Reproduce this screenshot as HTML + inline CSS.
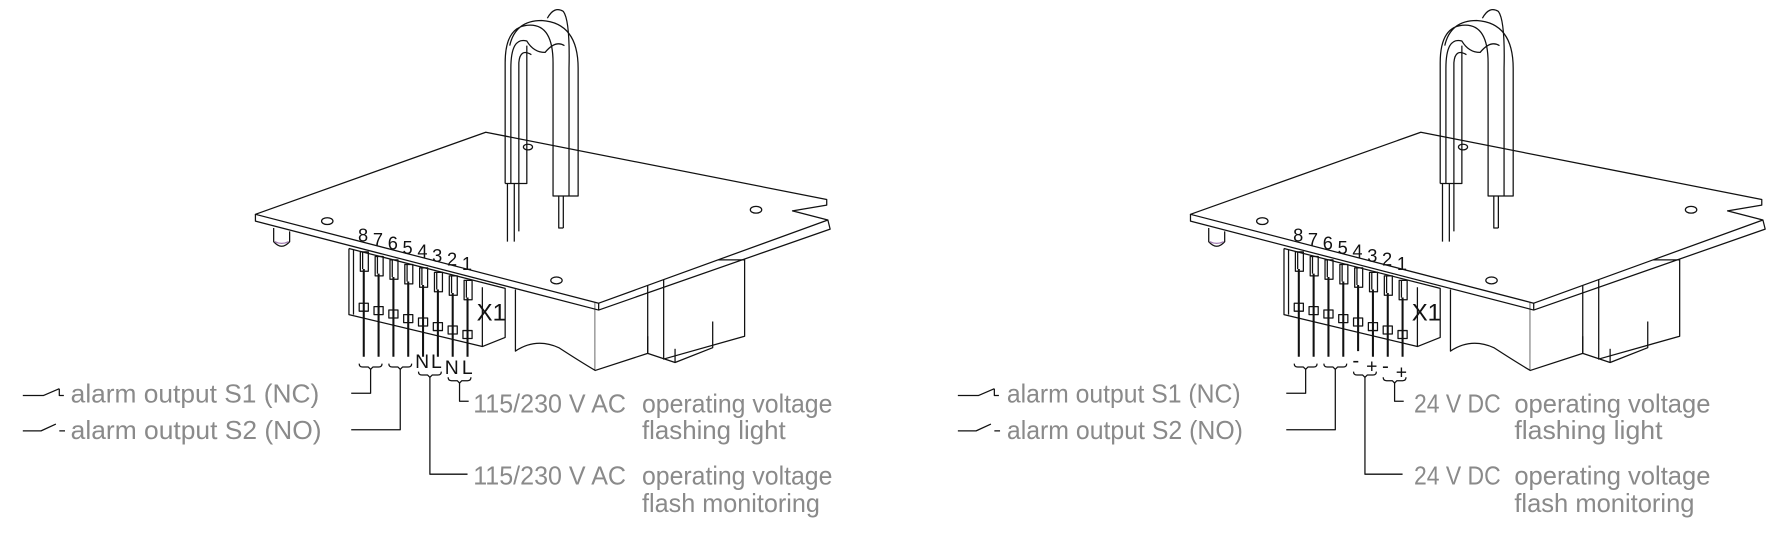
<!DOCTYPE html>
<html><head><meta charset="utf-8"><style>
html,body{margin:0;padding:0;background:#fff;}
svg{display:block}
.t{font-family:"Liberation Sans Narrow","Liberation Sans",sans-serif;font-stretch:condensed;fill:#8a8a8a;font-size:23px}
.n{font-family:"Liberation Sans",sans-serif;fill:#111;font-size:16px}
</style></head><body>
<svg width="1788" height="546" viewBox="0 0 1568 479" preserveAspectRatio="none" xmlns="http://www.w3.org/2000/svg">
<g fill="none" stroke="#111" stroke-width="1.1" stroke-linejoin="round">
<g id="b1">
<path d="M452,254 L452,308 Q470,296 490,305 Q510,318 522,325 L522,262" fill="#fff"/>
<path d="M522,262 L568,250 L568,310 L522,325" fill="#fff"/>
<path d="M582,228 L653,228 L653,295 L582,315 Z" fill="#fff"/>
<path d="M568,295 L568,310 L592,318 L625,305 L625,282"/>
<path d="M592,318 L592,306"/>
<path d="M224,188 L426,116 L725,175 L725,180 L695,185 L726,193 L525,266 Z" fill="#fff"/>
<path d="M224,188 L224,194 L525,272 L728,201 L726,193 M525,266 L525,272"/>
<ellipse cx="287" cy="194" rx="5" ry="3"/><ellipse cx="488" cy="246" rx="5" ry="3"/>
<ellipse cx="663" cy="184" rx="5" ry="3"/><ellipse cx="463" cy="129" rx="4" ry="2.5"/>
<path d="M240,200 L240,212 Q247,220 254,212 L254,203"/><path d="M241,212 Q247,215 253,212" stroke="#a07ab0"/>
<path d="M443,161 L443,55 Q443,22 465,22 Q485,22 485,55 L485,172 L507,172 L507,60 Q507,20 475,18 Q452,18 447,40"/>
<path d="M448,161 L448,60 Q448,32 462,36 Q468,46 478,46 Q487,35 495,40"/>
<path d="M455,161 L455,55 Q456,42 466,48"/>
<path d="M443,161 L462,161 L462,40"/>
<path d="M480,16 Q486,5 494,10 Q500,18 499,60 L499,172"/>
<path d="M451,161 L451,212 M455,161 L455,203 M445,161 L445,212 M494,172 L494,200 M490,172 L490,200 L494,200"/>
<path d="M306,218 L306,276 L423,304 L443,296 L443,253 L306,218" fill="#fff"/>
<path d="M423,252 L423,304 M310,219 L310,276"/>
<path d="M316,221 h7 v17 h-7 z M318,221 v15 M329,225 h7 v17 h-7 z M331,225 v15 M342,228 h7 v17 h-7 z M344,228 v15 M355,232 h7 v17 h-7 z M357,232 v15 M368,235 h7 v17 h-7 z M370,235 v15 M381,239 h7 v17 h-7 z M383,239 v15 M394,242 h7 v17 h-7 z M396,242 v15 M407,246 h7 v17 h-7 z M409,246 v15"/>
<path d="M315,266 h8 v7 h-8z M328,269 h8 v7 h-8z M341,272 h8 v7 h-8z M354,276 h8 v7 h-8z M367,279 h8 v7 h-8z M380,283 h8 v7 h-8z M393,286 h8 v7 h-8z M406,290 h8 v7 h-8z"/>
<path d="M319,236 V313 M332,240 V313 M345,243 V313 M358,247 V313 M371,250 V313 M384,254 V313 M397,257 V313 M410,261 V313" stroke-width="1.8"/>
<path d="M315,319 q0,3 3,3 h5 l2,2 l2,-2 h5 q3,0 3,-3 M341,319 q0,3 3,3 h5 l2,2 l2,-2 h5 q3,0 3,-3 M367,326 q0,3 3,3 h5 l2,2 l2,-2 h5 q3,0 3,-3 M393,331 q0,3 3,3 h5 l2,2 l2,-2 h5 q3,0 3,-3"/>
<path d="M325,324 V345 H308 M351,324 V377 H308 M377,331 V416 H410 M403,336 V352 H411"/>
</g>
<path d="M20,347 H38 L52,341 M52,341 V347 L56,347"/>
<path d="M20,378 H36 L49,372 M52,378 H57"/>

<g transform="translate(820,0)">
<path d="M452,254 L452,308 Q470,296 490,305 Q510,318 522,325 L522,262" fill="#fff"/>
<path d="M522,262 L568,250 L568,310 L522,325" fill="#fff"/>
<path d="M582,228 L653,228 L653,295 L582,315 Z" fill="#fff"/>
<path d="M568,295 L568,310 L592,318 L625,305 L625,282"/>
<path d="M592,318 L592,306"/>
<path d="M224,188 L426,116 L725,175 L725,180 L695,185 L726,193 L525,266 Z" fill="#fff"/>
<path d="M224,188 L224,194 L525,272 L728,201 L726,193 M525,266 L525,272"/>
<ellipse cx="287" cy="194" rx="5" ry="3"/><ellipse cx="488" cy="246" rx="5" ry="3"/>
<ellipse cx="663" cy="184" rx="5" ry="3"/><ellipse cx="463" cy="129" rx="4" ry="2.5"/>
<path d="M240,200 L240,212 Q247,220 254,212 L254,203"/><path d="M241,212 Q247,215 253,212" stroke="#a07ab0"/>
<path d="M443,161 L443,55 Q443,22 465,22 Q485,22 485,55 L485,172 L507,172 L507,60 Q507,20 475,18 Q452,18 447,40"/>
<path d="M448,161 L448,60 Q448,32 462,36 Q468,46 478,46 Q487,35 495,40"/>
<path d="M455,161 L455,55 Q456,42 466,48"/>
<path d="M443,161 L462,161 L462,40"/>
<path d="M480,16 Q486,5 494,10 Q500,18 499,60 L499,172"/>
<path d="M451,161 L451,212 M455,161 L455,203 M445,161 L445,212 M494,172 L494,200 M490,172 L490,200 L494,200"/>
<path d="M306,218 L306,276 L423,304 L443,296 L443,253 L306,218" fill="#fff"/>
<path d="M423,252 L423,304 M310,219 L310,276"/>
<path d="M316,221 h7 v17 h-7 z M318,221 v15 M329,225 h7 v17 h-7 z M331,225 v15 M342,228 h7 v17 h-7 z M344,228 v15 M355,232 h7 v17 h-7 z M357,232 v15 M368,235 h7 v17 h-7 z M370,235 v15 M381,239 h7 v17 h-7 z M383,239 v15 M394,242 h7 v17 h-7 z M396,242 v15 M407,246 h7 v17 h-7 z M409,246 v15"/>
<path d="M315,266 h8 v7 h-8z M328,269 h8 v7 h-8z M341,272 h8 v7 h-8z M354,276 h8 v7 h-8z M367,279 h8 v7 h-8z M380,283 h8 v7 h-8z M393,286 h8 v7 h-8z M406,290 h8 v7 h-8z"/>
<path d="M319,236 V313 M332,240 V313 M345,243 V313 M358,247 V313 M371,250 V308 M384,254 V313 M397,257 V313 M410,261 V313" stroke-width="1.8"/>
<path d="M315,319 q0,3 3,3 h5 l2,2 l2,-2 h5 q3,0 3,-3 M341,319 q0,3 3,3 h5 l2,2 l2,-2 h5 q3,0 3,-3 M367,326 q0,3 3,3 h5 l2,2 l2,-2 h5 q3,0 3,-3 M393,331 q0,3 3,3 h5 l2,2 l2,-2 h5 q3,0 3,-3"/>
<path d="M325,324 V345 H308 M351,324 V377 H308 M377,331 V416 H410 M403,336 V352 H411"/>
</g>
<path d="M840,347 H858 L872,341 M872,341 V347 L876,347"/>
<path d="M840,378 H856 L869,372 M872,378 H877"/>
</g>

<g class="n">
<text x="314" y="212">8</text><text x="327" y="216">7</text><text x="340" y="219">6</text><text x="353" y="223">5</text><text x="366" y="226">4</text><text x="379" y="230">3</text><text x="392" y="233">2</text><text x="405" y="237">1</text>
<text x="418" y="281" font-size="21">X1</text>
<text x="364" y="323" font-size="17">N</text><text x="378" y="323" font-size="17">L</text><text x="390" y="328" font-size="17">N</text><text x="405" y="328" font-size="17">L</text>
</g>
<g class="n" transform="translate(820,0)">
<text x="314" y="212">8</text><text x="327" y="216">7</text><text x="340" y="219">6</text><text x="353" y="223">5</text><text x="366" y="226">4</text><text x="379" y="230">3</text><text x="392" y="233">2</text><text x="405" y="237">1</text>
<text x="418" y="281" font-size="21">X1</text>
<text x="366" y="322" font-size="18">-</text><text x="378" y="327" font-size="17">+</text><text x="392" y="327" font-size="18">-</text><text x="404" y="332" font-size="17">+</text>
</g>

<g class="t">
<text x="62" y="353" textLength="218" lengthAdjust="spacingAndGlyphs">alarm output S1 (NC)</text>
<text x="62" y="385" textLength="220" lengthAdjust="spacingAndGlyphs">alarm output S2 (NO)</text>
<text x="415" y="362" textLength="134" lengthAdjust="spacingAndGlyphs">115/230 V AC</text>
<text x="563" y="362" textLength="167" lengthAdjust="spacingAndGlyphs">operating voltage</text>
<text x="563" y="385" textLength="126" lengthAdjust="spacingAndGlyphs">flashing light</text>
<text x="415" y="425" textLength="134" lengthAdjust="spacingAndGlyphs">115/230 V AC</text>
<text x="563" y="425" textLength="167" lengthAdjust="spacingAndGlyphs">operating voltage</text>
<text x="563" y="449" textLength="156" lengthAdjust="spacingAndGlyphs">flash monitoring</text>

<text x="883" y="353" textLength="205" lengthAdjust="spacingAndGlyphs">alarm output S1 (NC)</text>
<text x="883" y="385" textLength="207" lengthAdjust="spacingAndGlyphs">alarm output S2 (NO)</text>
<text x="1240" y="362" textLength="76" lengthAdjust="spacingAndGlyphs">24 V DC</text>
<text x="1328" y="362" textLength="172" lengthAdjust="spacingAndGlyphs">operating voltage</text>
<text x="1328" y="385" textLength="130" lengthAdjust="spacingAndGlyphs">flashing light</text>
<text x="1240" y="425" textLength="76" lengthAdjust="spacingAndGlyphs">24 V DC</text>
<text x="1328" y="425" textLength="172" lengthAdjust="spacingAndGlyphs">operating voltage</text>
<text x="1328" y="449" textLength="158" lengthAdjust="spacingAndGlyphs">flash monitoring</text>
</g>
</svg>
</body></html>
